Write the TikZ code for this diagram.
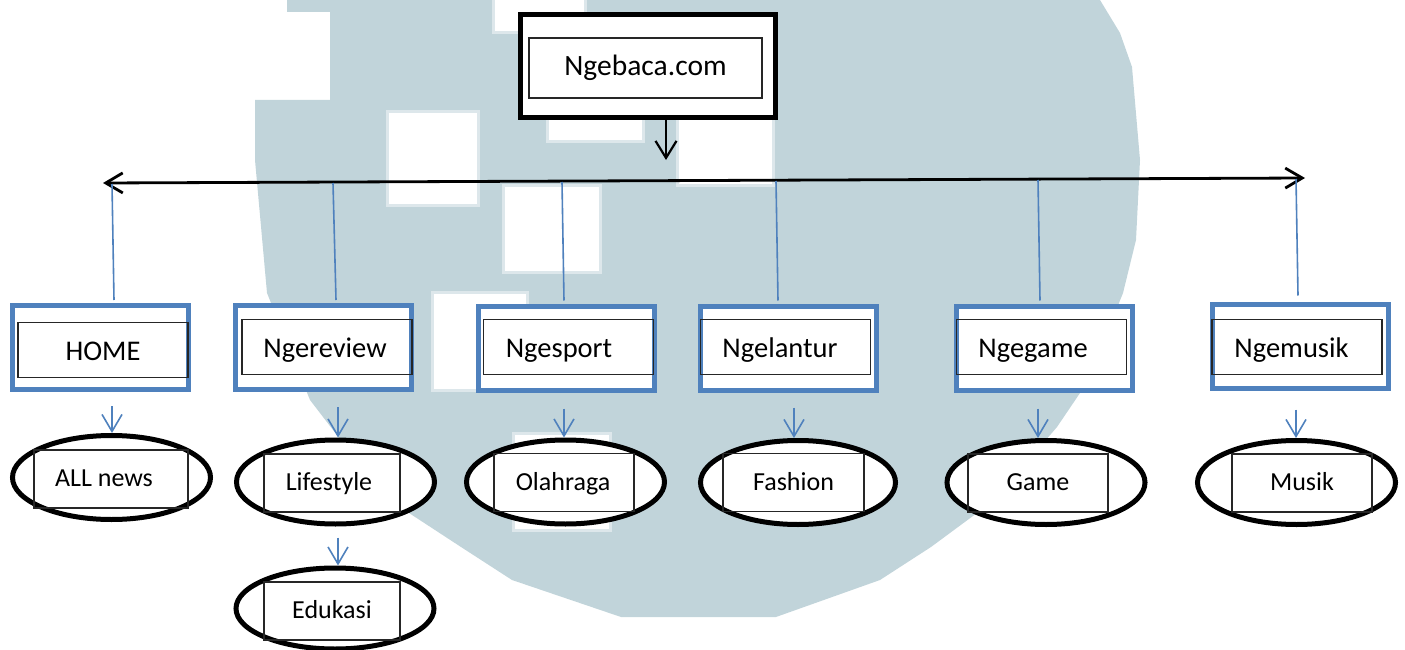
\documentclass[tikz,border=0pt]{standalone}
\usepackage{fontspec}
\setmainfont{Carlito}
\usetikzlibrary{arrows.meta,calc,shapes.geometric}
\definecolor{wm}{RGB}{193,212,218}
\definecolor{obl}{RGB}{79,129,189}
\tikzset{
  mainbox/.style={draw=black,line width=5pt,fill=white,minimum width=255pt,minimum height=103pt,inner sep=0pt},
  innerbox/.style={draw=black!85,line width=1.3pt,inner sep=0pt,minimum width=170pt,minimum height=55pt,text height=25pt,text depth=4pt,font=\fontsize{28.5}{34}\selectfont},
  ellinner/.style={draw=black!85,line width=1.3pt,inner sep=0pt,minimum height=58pt,text height=20pt,text depth=5pt,font=\fontsize{26}{31}\selectfont},
  bluebox/.style={draw=obl,line width=5pt,fill=white,minimum width=176pt,minimum height=84pt,inner sep=0pt},
  ellbox/.style={ellipse,draw=black,line width=5pt,fill=white,minimum width=198pt,minimum height=84pt,inner sep=0pt},
  blueline/.style={draw=obl,line width=1.6pt},
  bluearrow/.style={draw=obl,line width=1.6pt,-{Straight Barb[length=17pt,width=20pt]}},
  blackarrow/.style={draw=black,line width=2.2pt,-{Straight Barb[length=17pt,width=21pt]}},
  mainline/.style={draw=black,line width=2.8pt,{Straight Barb[length=17pt,width=20pt]}-{Straight Barb[length=17pt,width=20pt]}},
  wsq/.style={fill=white,draw=wm!55,line width=3pt},
  tx/.style={execute at begin node={\hspace*{#1}}}
}
\begin{document}
\begin{tikzpicture}[x=1pt,y=-1pt]
\useasboundingbox (0,0) rectangle (1405,650);
% watermark
\fill[wm] (287,0) -- (1100,0) -- (1120,33) -- (1132,67) -- (1140,160) -- (1136,240) -- (1123,293)
  -- (1100,350) -- (1080,393) -- (1057,427) -- (1020,470) -- (977,513) -- (931,547) -- (880,580)
  -- (776,617) -- (621,617) -- (512,580) -- (461,547) -- (409,513) -- (360,465) -- (333,430)
  -- (310,400) -- (267,293) -- (255,160) -- (255,100) -- (330,100) -- (330,12) -- (287,12) -- cycle;
\path[wsq] (493,-5) rectangle (585,33);
\path[wsq] (387,112) rectangle (478,205);
\path[wsq] (503,185) rectangle (600,272);
\path[wsq] (547,100) rectangle (643,142);
\path[wsq] (677,110) rectangle (773,185);
\path[wsq] (432,292) rectangle (527,390);
\path[wsq] (513,433) rectangle (610,530);

% top box
\node[mainbox] (main) at (648,66) {};
\node[innerbox,minimum width=233pt,minimum height=60pt,text height=22pt,text depth=6pt,font=\fontsize{29.5}{35}\selectfont] (maint) at (645.5,68) {Ngebaca.com};
\coordinate (ma) at (666,160);
\draw[blackarrow] ($(main.south)+(18,0)$) -- (ma);

% horizontal line
\coordinate (hl) at (103,183);
\coordinate (hr) at (1305,178);
\draw[mainline] (hl) -- (hr);

% category boxes
\node[bluebox] (b1) at (100.5,347.5) {};
\node[bluebox] (b2) at (323.5,347.5) {};
\node[bluebox] (b3) at (566.5,348) {};
\node[bluebox] (b4) at (788,348) {};
\node[bluebox] (b5) at (1044,348) {};
\node[bluebox] (b6) at (1300,346) {};
\node[innerbox,tx=0pt] (r1) at (103,350) {HOME};
\node[innerbox,tx=-4pt] (r2) at (327,347) {Ngereview};
\node[innerbox,tx=-19pt] (r3) at (568.5,347) {Ngesport};
\node[innerbox,tx=-11pt] (r4) at (785.5,347) {Ngelantur};
\node[innerbox,tx=-17pt] (r5) at (1041.5,347) {Ngegame};
\node[innerbox,tx=-11pt] (r6) at (1297,347) {Ngemusik};

% connectors from main line
\coordinate (t1) at (112,184);
\coordinate (t2) at (333,183);
\coordinate (t3) at (562,182);
\coordinate (t4) at (776,181);
\coordinate (t5) at (1038,180);
\coordinate (t6) at (1296,179);
\draw[blueline] (t1) -- ($(b1.north)+(13.5,-3)$);
\draw[blueline] (t2) -- ($(b2.north)+(12.5,-3)$);
\draw[blueline] (t3) -- ($(b3.north)+(-2.5,-3)$);
\draw[blueline] (t4) -- ($(b4.north)+(-10,-3)$);
\draw[blueline] (t5) -- ($(b5.north)+(-4,-3)$);
\draw[blueline] (t6) -- ($(b6.north)+(-2,-6)$);

% ellipses
\node[ellbox] (e1) at (111.5,477.5) {};
\node[ellbox] (e2) at (335.5,482) {};
\node[ellbox] (e3) at (565.5,482) {};
\node[ellbox,minimum width=195pt] (e4) at (798,482.5) {};
\node[ellbox] (e5) at (1046,482.5) {};
\node[ellbox] (e6) at (1296.5,482.5) {};
\node[ellbox,minimum height=81pt] (e7) at (335,608.5) {};
\node[ellinner,minimum width=154pt,tx=-14pt] (s1) at (111,479) {ALL news};
\node[ellinner,minimum width=136pt,tx=-6pt] (s2) at (332,483) {Lifestyle};
\node[ellinner,minimum width=140pt,tx=-2pt] (s3) at (564,482.5) {Olahraga};
\node[ellinner,minimum width=141pt] (s4) at (793.5,482.5) {Fashion};
\node[ellinner,minimum width=140pt] (s5) at (1038,483) {Game};
\node[ellinner,minimum width=140pt] (s6) at (1302,483) {Musik};
\node[ellinner,minimum width=136pt] (s7) at (332,611) {Edukasi};

% arrows to ellipses
\draw[bluearrow] ($(b1.south)+(11.5,14)$) -- ($(e1.north)+(0.5,0)$);
\draw[bluearrow] ($(b2.south)+(14.5,15)$) -- ($(e2.north)+(2.5,0)$);
\draw[bluearrow] ($(b3.south)+(-2.5,16)$) -- ($(e3.north)+(-1.5,0)$);
\draw[bluearrow] ($(b4.south)+(6,15)$) -- ($(e4.north)+(-4,0)$);
\draw[bluearrow] ($(b5.south)+(-6,16)$) -- ($(e5.north)+(-8,0)$);
\draw[bluearrow] ($(b6.south)+(-4,19)$) -- ($(e6.north)+(-0.5,0)$);
\draw[bluearrow] ($(e2.south)+(2.5,11)$) -- ($(e7.north)+(3,0)$);
\end{tikzpicture}
\end{document}
